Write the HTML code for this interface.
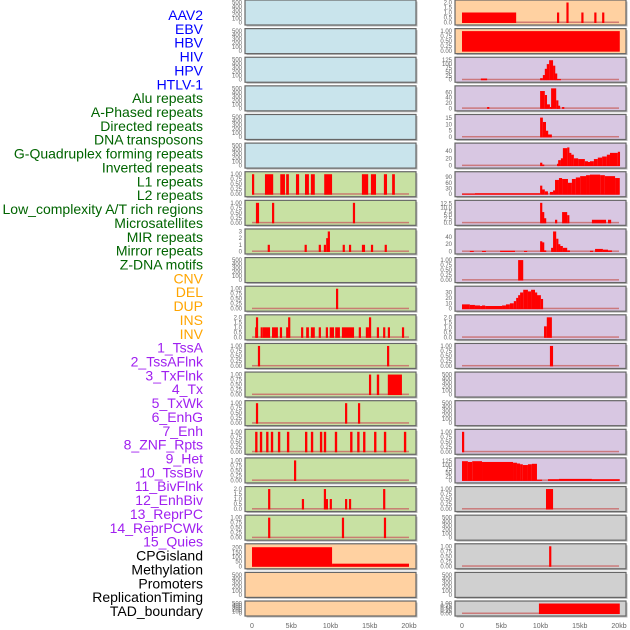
<!DOCTYPE html>
<html><head><meta charset="utf-8"><style>
body{margin:0;background:#fff;}
svg{display:block;font-family:"Liberation Sans",sans-serif;}
</style></head><body>
<svg id="c" width="630" height="630" viewBox="0 0 630 630"></svg>
<script>
const labels=["AAV2","EBV","HBV","HIV","HPV","HTLV-1","Alu repeats","A-Phased repeats","Directed repeats","DNA transposons","G-Quadruplex forming repeats","Inverted repeats","L1 repeats","L2 repeats","Low_complexity A/T rich regions","Microsatellites","MIR repeats","Mirror repeats","Z-DNA motifs","CNV","DEL","DUP","INS","INV","1_TssA","2_TssAFlnk","3_TxFlnk","4_Tx","5_TxWk","6_EnhG","7_Enh","8_ZNF_Rpts","9_Het","10_TssBiv","11_BivFlnk","12_EnhBiv","13_ReprPC","14_ReprPCWk","15_Quies","CPGisland","Methylation","Promoters","ReplicationTiming","TAD_boundary"];
const labelColors=["#0000ff","#0000ff","#0000ff","#0000ff","#0000ff","#0000ff","#006400","#006400","#006400","#006400","#006400","#006400","#006400","#006400","#006400","#006400","#006400","#006400","#006400","#ffa500","#ffa500","#ffa500","#ffa500","#ffa500","#a020f0","#a020f0","#a020f0","#a020f0","#a020f0","#a020f0","#a020f0","#a020f0","#a020f0","#a020f0","#a020f0","#a020f0","#a020f0","#a020f0","#a020f0","#000","#000","#000","#000","#000"];
const xTicks=[0,5,10,15,20];
const xTickLabels=["0","5kb","10kb","15kb","20kb"];
const E=[0,100,200,300,400,500];
const T1=[0,0.25,0.5,0.75,1];
const T2=[0,0.5,1,1.5,2];
const leftBg=["b","b","b","b","b","b","g","g","g","g","g","g","g","g","g","g","g","g","g","o","o","o"];
const rightBg=["o","o","p","p","p","p","p","p","p","p","p","p","p","p","p","p","p","x","x","x","x","x"];
const leftTicks=[E,E,E,E,E,E,T1,T1,[0,1,2,3],E,T1,T2,T1,T1,T1,T1,T1,T2,T1,[0,50,100,150,200],E,E];
const leftMax=[500,500,500,500,500,500,1,1,3,500,1,2,1,1,1,1,1,2,1,215,500,500];
const leftData=[[],[],[],[],[],[],
[[0,0.2,1],[1.65,2.7,1],[3.6,4.2,1],[4.35,4.7,1],[5.6,6.0,1],[6.75,7.25,1],[7.5,8.0,1],[9.2,10.2,1],[14.0,14.8,1],[15.15,15.8,1],[16.8,17.2,1],[17.85,18.2,1]],
[[0.5,0.9,1],[2.55,2.8,1],[12.85,13.1,1]],
[[2.0,2.25,1],[6.7,6.95,1],[8.5,8.75,1],[9.15,9.35,1],[9.45,9.65,2],[9.65,9.9,3],[11.55,11.8,1],[12.35,12.6,1],[14.0,14.4,1],[15.15,15.4,1],[16.9,17.15,1]],
[],
[[10.7,10.95,1]],
[[0.4,0.55,1],[0.5,0.75,2],[1.1,1.35,1],[1.4,2.3,1],[2.55,3.3,1],[3.55,3.8,1],[4.35,4.6,1],[4.6,4.85,2],[6.25,6.45,1],[6.9,7.25,1],[7.5,8.0,1],[8.5,8.75,1],[9.4,9.65,1],[9.9,10.45,1],[10.6,11.2,1],[11.45,13.0,1],[13.6,13.85,1],[14.5,14.9,1],[14.9,15.1,2],[15.9,16.15,1],[16.7,16.95,1],[17.3,17.55,1],[19.1,19.35,1]],
[[0.75,1.0,1],[17.2,17.45,1]],
[[14.9,15.15,1],[15.9,16.2,1],[17.3,19.1,1]],
[[0.5,0.75,1],[11.85,12.1,1],[13.5,13.75,1]],
[[0.4,0.7,1],[1.0,1.3,1],[1.8,2.1,1],[2.4,2.7,1],[3.3,3.6,1],[4.45,4.75,1],[6.75,7.05,1],[7.5,7.8,1],[8.65,8.95,1],[9.15,9.45,1],[10.55,10.85,1],[12.5,12.8,1],[13.4,13.7,1],[14.15,14.45,1],[15.55,15.85,1],[16.8,17.1,1],[19.35,19.65,1]],
[[5.35,5.6,1]],
[[2.05,2.3,2],[6.35,6.6,1],[9.15,9.4,2],[9.4,9.6,1],[9.9,10.15,1],[11.85,12.1,1],[12.35,12.6,1],[16.7,16.95,2]],
[[2.05,2.3,1],[11.45,11.7,1],[16.8,17.05,1]],
[[0,10.2,205],[10.2,20,28]],
[],[]];
const rightTicks=[T2,T1,[0,25,50,75,100,125],[0,20,40,60],[0,5,10,15],[0,20,40],[0,30,60,90],[0,2.5,5,7.5,10,12.5],[0,20,40],T1,[0,10,20,30],T2,T1,E,E,T1,[0,25,50,75,100,125],T1,E,T1,E,T1];
const rightMax=[2,1,128,75,16,55,105,13,55,1,37,2,1,500,500,1,130,1,500,1,500,1];
const rightData=[
[[0,6.9,1],[12.1,12.35,1],[13.3,13.55,2],[15.2,15.45,1],[16.85,17.1,1],[17.85,18.1,1]],
[[0,20.1,1]],
[[2.4,3.2,8],[9.95,10.3,10],[10.3,10.55,30],[10.55,10.8,70],[10.8,11.1,100],[11.1,11.6,125],[11.6,11.85,90],[11.85,12.1,40],[12.1,12.6,5]],
[[3.2,3.4,5],[9.95,10.55,65],[10.55,10.8,50],[10.8,11.2,15],[11.2,11.35,5],[11.35,12.0,75],[12.0,12.1,30],[12.1,12.5,10],[12.75,12.9,5]],
[[9.95,10.3,15.5],[10.3,10.7,12],[10.7,10.95,5],[10.95,11.45,2]],
[[9.95,10.2,8],[10.2,10.45,3],[12.1,12.25,5],[12.25,12.6,15],[12.6,12.85,20],[12.85,13.4,48],[13.4,13.65,50],[13.65,13.9,35],[13.9,14.25,30],[14.25,14.8,20],[14.8,15.65,18],[15.65,16.05,12],[16.05,16.3,10],[16.3,16.8,12],[16.8,17.3,18],[17.3,17.85,22],[17.85,18.45,25],[18.45,18.85,30],[18.85,19.85,35],[19.85,20.1,38]],
[[0,1.65,3],[1.65,9.95,5],[9.95,10.2,45],[10.2,10.55,25],[10.55,10.95,15],[11.2,11.6,12],[11.6,11.85,20],[11.85,12.35,75],[12.35,12.75,85],[12.75,13.5,80],[13.5,14.0,60],[14.0,14.5,80],[14.5,15.05,88],[15.05,15.8,95],[15.8,16.3,100],[16.3,17.6,103],[17.6,18.2,100],[18.2,19.5,95],[19.5,20.1,85]],
[[9.95,10.2,13],[10.2,10.45,7],[10.45,10.7,3],[11.85,12.1,2],[12.75,13.4,7],[13.4,13.65,5],[16.55,18.35,2],[18.6,19.0,2]],
[[1.0,1.5,1.5],[2.55,3.05,1.5],[4.85,6.75,2],[7.9,8.3,1.5],[9.95,10.2,28],[10.2,10.45,25],[10.45,10.7,3],[11.35,11.6,10],[11.6,12.0,55],[12.0,12.25,35],[12.25,12.5,20],[12.5,12.85,15],[12.85,13.4,10],[13.4,13.75,3],[16.3,16.7,2],[16.95,17.95,7],[17.95,18.6,5],[18.6,19.1,3]],
[[7.15,7.8,1]],
[[0,1.0,8],[1.0,1.65,7],[1.65,2.3,6],[2.3,2.55,5],[2.55,2.95,6],[2.95,5.1,5],[5.1,5.6,6],[5.6,6.1,8],[6.1,6.6,10],[6.6,6.9,14],[6.9,7.15,20],[7.15,7.4,25],[7.4,7.8,30],[7.8,8.4,35],[8.4,8.8,32],[8.8,9.3,35],[9.3,9.55,30],[9.55,10.05,25],[10.05,10.2,18]],
[[10.45,10.8,1.1],[10.8,11.45,2]],
[[11.2,11.6,1]],
[],[],
[[0,0.25,1]],
[[0,0.75,125],[0.75,1.3,120],[1.3,2.55,125],[2.55,6.5,120],[6.5,7.0,115],[7.0,7.4,110],[7.4,7.75,105],[7.75,8.4,100],[8.4,8.9,105],[8.9,9.55,108],[9.55,10.2,5],[10.95,12.35,8],[12.35,16.55,10],[16.55,20.1,8]],
[[10.7,11.6,1]],
[],
[[11.1,11.35,1]],
[],
[[9.8,20.1,1]]];

const NS="http://www.w3.org/2000/svg";
const svg=document.getElementById('c');
function mk(tag,attrs,parent){const e=document.createElementNS(NS,tag);for(const k in attrs)e.setAttribute(k,attrs[k]);(parent||svg).appendChild(e);return e;}
const bgColors={b:"#c9e4ec",g:"#c8e1a3",o:"#ffd1a1",p:"#d8c7e2",x:"#d0d0d0"};
const PITCH=28.62;
function panelTop(i){return i*PITCH;}
function panelH(i){return i===21?15:25;}
function fmt(t,ticks){const frac=ticks.some(v=>v%1!==0);if(!frac)return String(t);const dec=ticks.some(v=>(v*10)%1!==0)?2:1;return t.toFixed(dec);}

labels.forEach((l,i)=>{
  const t=mk('text',{x:203,y:15+i*13.86+5,'text-anchor':'end','font-size':14,fill:labelColors[i]});
  
  
  t.textContent=l;
});

function drawColumn(px,bgs,ticks,maxs,data,side){
  const x0=px+7, kbw=7.85;
  const xs=kb=>x0+kb*kbw;
  for(let i=0;i<22;i++){
    const top=panelTop(i),h=panelH(i);
    const g=mk('g',{});
    
    
    mk('rect',{x:px+1.5,y:top+1.5,width:171,height:h,fill:'#bbb'},g);
    mk('rect',{x:px,y:top,width:171,height:h,fill:bgColors[bgs[i]],stroke:'#666','stroke-width':1.2},g);
    const base=top+h-2.5, ph=h-5;
    const ys=v=>base-v/maxs[i]*ph;
    ticks[i].forEach(t=>{
      const tt=mk('text',{x:px-3,y:ys(t)+2,'text-anchor':'end','font-size':6,fill:'#666'},g);
      
      
      tt.textContent=fmt(t,ticks[i]);
    });
    if(data[i].length){
      const bl=mk('rect',{x:xs(0),y:base-1,width:xs(20)-xs(0),height:1.5,fill:'#c86464',opacity:0.8},g);
      
      
    }
    data[i].forEach(s=>{
      const y=ys(s[2]);
      const r=mk('rect',{x:xs(s[0]),y:y,width:Math.max(2.2,xs(s[1])-xs(s[0])),height:base-y+0.5,fill:'#ff0000'},g);
      
      
    });
  }
  xTicks.forEach((t,k)=>{
    const tt=mk('text',{x:xs(t),y:628,'text-anchor':'middle','font-size':7,fill:'#666'});
    
    
    tt.textContent=xTickLabels[k];
  });
}
drawColumn(245,leftBg,leftTicks,leftMax,leftData,'left');
drawColumn(455,rightBg,rightTicks,rightMax,rightData,'right');
</script>
</body></html>
